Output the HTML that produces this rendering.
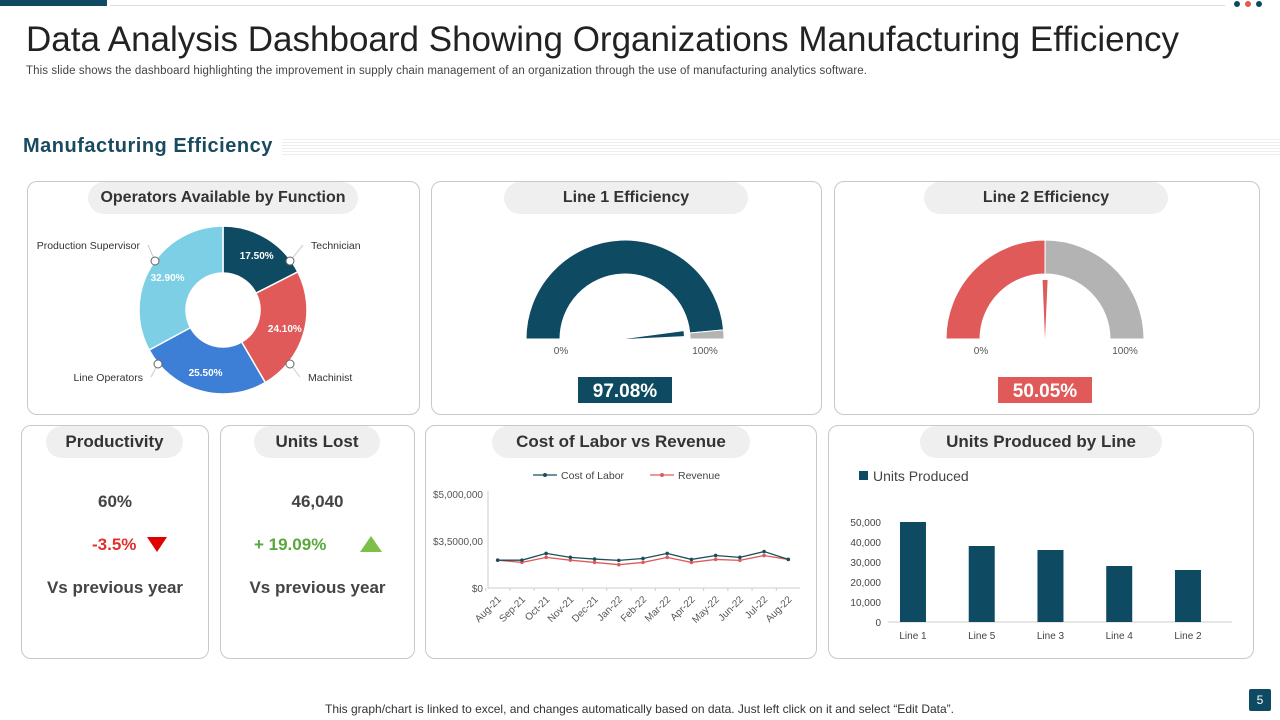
<!DOCTYPE html>
<html><head><meta charset="utf-8">
<style>
*{margin:0;padding:0;box-sizing:border-box}
body{width:1280px;height:720px;background:#fff;font-family:"Liberation Sans",sans-serif;position:relative;overflow:hidden}
.abs{position:absolute}
.card{position:absolute;border:1px solid #c8c8c8;border-radius:10px;background:#fff}
.pill{position:absolute;background:#efefef;border-radius:16px;height:32px;line-height:32px;text-align:center;font-weight:bold;font-size:17px;color:#333;white-space:nowrap}
svg text{font-family:"Liberation Sans",sans-serif}
</style></head><body>
<div class="abs" style="left:0;top:0;width:107px;height:6px;background:#0f4a63"></div>
<div class="abs" style="left:110px;top:5px;width:1115px;height:1px;background:#ddd"></div>
<div class="abs" style="left:1234px;top:1px;width:40px;height:8px">
<span style="position:absolute;left:0;width:6px;height:6px;border-radius:3px;background:#0f4a63"></span>
<span style="position:absolute;left:11px;width:6px;height:6px;border-radius:3px;background:#e05a5a"></span>
<span style="position:absolute;left:22px;width:6px;height:6px;border-radius:3px;background:#0f4a63"></span></div>
<div class="abs" style="left:26px;top:20px;font-size:35px;color:#222;letter-spacing:0px;white-space:nowrap">Data Analysis Dashboard Showing Organizations Manufacturing Efficiency</div>
<div class="abs" style="left:26px;top:65px;font-size:11.5px;color:#444;letter-spacing:0.1px;white-space:nowrap">This slide shows the dashboard highlighting the improvement in supply chain management of an organization  through the use of manufacturing analytics software.</div>
<div class="abs" style="left:23px;top:135px;font-size:20px;font-weight:bold;color:#1a4a60;letter-spacing:0.5px">Manufacturing  Efficiency</div>
<div class="abs" style="left:282px;top:139px;width:998px;height:16px;background:repeating-linear-gradient(#eee 0 1px,#fff 1px 3px)"></div>

<div class="card" style="left:27px;top:181px;width:393px;height:234px"></div>
<div class="pill" style="left:88px;top:182px;width:270px;font-size:16px">Operators Available by Function</div>
<div class="card" style="left:431px;top:181px;width:391px;height:234px"></div>
<div class="pill" style="left:504px;top:182px;width:244px;font-size:16px">Line 1 Efficiency</div>
<div class="card" style="left:834px;top:181px;width:426px;height:234px"></div>
<div class="pill" style="left:924px;top:182px;width:244px;font-size:16px">Line 2 Efficiency</div>

<div class="card" style="left:21px;top:425px;width:188px;height:234px"></div>
<div class="pill" style="left:46px;top:426px;width:137px">Productivity</div>
<div class="card" style="left:220px;top:425px;width:195px;height:234px"></div>
<div class="pill" style="left:254px;top:426px;width:126px">Units Lost</div>
<div class="card" style="left:425px;top:425px;width:392px;height:234px"></div>
<div class="pill" style="left:492px;top:426px;width:258px">Cost of Labor vs Revenue</div>
<div class="card" style="left:828px;top:425px;width:426px;height:234px"></div>
<div class="pill" style="left:920px;top:426px;width:242px">Units Produced by Line</div>

<div class="abs" style="left:21px;width:188px;top:492px;text-align:center;font-size:17px;font-weight:bold;color:#444">60%</div>
<div class="abs" style="left:92px;top:535px;font-size:17px;font-weight:bold;color:#e03030">-3.5%</div>
<div class="abs" style="left:147px;top:537px;width:0;height:0;border-left:10px solid transparent;border-right:10px solid transparent;border-top:15px solid #e00000"></div>
<div class="abs" style="left:21px;width:188px;top:578px;text-align:center;font-size:17px;font-weight:bold;color:#444">Vs previous year</div>
<div class="abs" style="left:220px;width:195px;top:492px;text-align:center;font-size:17px;font-weight:bold;color:#444">46,040</div>
<div class="abs" style="left:254px;top:535px;font-size:17px;font-weight:bold;color:#5aa83c">+ 19.09%</div>
<div class="abs" style="left:360px;top:536px;width:0;height:0;border-left:11px solid transparent;border-right:11px solid transparent;border-bottom:16px solid #7cc04a"></div>
<div class="abs" style="left:220px;width:195px;top:578px;text-align:center;font-size:17px;font-weight:bold;color:#444">Vs previous year</div>

<div class="abs" style="left:325px;top:702px;font-size:12px;color:#333;white-space:nowrap">This graph/chart is linked to excel,  and changes automatically based on data. Just left click on it and select “Edit Data”.</div>
<div class="abs" style="left:1249px;top:689px;width:22px;height:22px;background:#0f4a63;color:#fff;font-size:12px;text-align:center;line-height:22px;border-radius:2px">5</div>

<svg id="main" class="abs" style="left:0;top:0" width="1280" height="720"></svg>

<script>
const donutLabels=["Technician","Machinist","Line Operators","Production Supervisor"];
const donutValues=[17.5,24.1,25.5,32.9];
const donutColors=["#0f4a63","#e05a5a","#3d7fd6","#7dcfe6"];
const gauge1Value=97.08;
const gauge2Value=50.05;
const months=["Aug-21","Sep-21","Oct-21","Nov-21","Dec-21","Jan-22","Feb-22","Mar-22","Apr-22","May-22","Jun-22","Jul-22","Aug-22"];
const costOfLabor=[1480000,1480000,1840000,1630000,1540000,1470000,1570000,1840000,1520000,1730000,1630000,1940000,1520000];
const revenue=[1480000,1360000,1630000,1480000,1360000,1240000,1360000,1630000,1360000,1520000,1470000,1730000,1520000];
const lineTicks=[0,2500000,5000000];
const lineTickLabels=["$0","$3,5000,00","$5,000,000"];
const barCats=["Line 1","Line 5","Line 3","Line 4","Line 2"];
const barValues=[50000,38000,36000,28000,26000];
const barTicks=[0,10000,20000,30000,40000,50000];

const NS="http://www.w3.org/2000/svg";
const svg=document.getElementById('main');
function mk(tag,attrs,parent){const e=document.createElementNS(NS,tag);for(const k in attrs)e.setAttribute(k,attrs[k]);(parent||svg).appendChild(e);return e;}
function txt(x,y,s,attrs){const t=mk('text',Object.assign({x:x,y:y},attrs||{}));t.textContent=s;return t;}

// Donut
const dcx=223,dcy=310,ro=84,ri=37;
const total=donutValues.reduce((a,b)=>a+b,0);
let acc=0;
function pt(r,a){return [dcx+r*Math.sin(a),dcy-r*Math.cos(a)];}
const labelPos=[[290,261,311,249,'start'],[290,364,308,381,'start'],[158,364,143,381,'end'],[155,261,140,249,'end']];
donutValues.forEach((v,i)=>{
  const a0=acc/total*2*Math.PI;acc+=v;const a1=acc/total*2*Math.PI;
  const lg=(a1-a0)>Math.PI?1:0;
  const p0=pt(ro,a0),p1=pt(ro,a1),q1=pt(ri,a1),q0=pt(ri,a0);
  const s=mk('path',{d:`M${p0} A${ro},${ro} 0 ${lg} 1 ${p1} L${q1} A${ri},${ri} 0 ${lg} 0 ${q0}Z`,fill:donutColors[i],stroke:'#fff','stroke-width':1.5});
  
  
  const am=(a0+a1)/2,lp=pt((ro+ri)/2+4,am);
  const t=txt(lp[0],lp[1]+4,v.toFixed(2)+'%',{fill:'#fff','font-size':10,'font-weight':'bold','text-anchor':'middle'});
  
  
  const L=labelPos[i];
  mk('line',{x1:L[0],y1:L[1],x2:L[2]+(L[4]=='start'?-8:8),y2:L[3]-4,stroke:'#ccc'});
  mk('circle',{cx:L[0],cy:L[1],r:4,fill:'#fff',stroke:'#666'});
  const lt=txt(L[2],L[3],donutLabels[i],{fill:'#333','font-size':10.5,'text-anchor':L[4]});
  
  
});

// Gauges
function gauge(cx,cy,val,col,name){
  const r1=99,r2=65,f=val/100;
  function gp(r,t){return [cx-r*Math.cos(Math.PI*t),cy-r*Math.sin(Math.PI*t)];}
  function arc(t0,t1,c){const a=gp(r1,t0),b=gp(r1,t1),c2=gp(r2,t1),d=gp(r2,t0);
    return mk('path',{d:`M${a} A${r1},${r1} 0 0 1 ${b} L${c2} A${r2},${r2} 0 0 0 ${d}Z`,fill:c,stroke:'#fff','stroke-width':1});}
  const g1=arc(0,f,col);
  const g2=arc(f,1,'#b3b3b3');
  const tip=gp(r2-6,f),perp=[Math.sin(Math.PI*f)*2.5,Math.cos(Math.PI*f)*2.5];
  const nd=mk('path',{d:`M${cx},${cy} L${tip[0]-perp[0]},${tip[1]+perp[1]} L${tip[0]+perp[0]},${tip[1]-perp[1]}Z`,fill:col});
  
  txt(cx-64,cy+15,'0%',{fill:'#555','font-size':10,'text-anchor':'middle'});
  txt(cx+80,cy+15,'100%',{fill:'#555','font-size':10,'text-anchor':'middle'});
  mk('rect',{x:cx-47,y:cy+38,width:94,height:26,fill:col});
  const vt=txt(cx,cy+58,val.toFixed(2)+'%',{fill:'#fff','font-size':19,'font-weight':'bold','text-anchor':'middle'});
  
}
gauge(625,339,gauge1Value,'#0f4a63','line1-gauge');
gauge(1045,339,gauge2Value,'#e05a5a','line2-gauge');

// Line chart
const lx0=497.7,lx1=788.3,ly0=588,ly1=494,lmax=5000000;
const lx=i=>lx0+(lx1-lx0)*i/(months.length-1);
const ly=v=>ly0-(ly0-ly1)*v/lmax;
mk('line',{x1:488,y1:ly(0),x2:800,y2:ly(0),stroke:'#ccc'});
mk('line',{x1:488,y1:ly1-3,x2:488,y2:ly(0),stroke:'#ccc'});
lineTicks.forEach((t,i)=>{const e=txt(483,ly(t)+4,lineTickLabels[i],{fill:'#555','font-size':10,'text-anchor':'end'});});
months.forEach((m,i)=>{
  mk('line',{x1:lx(i)-12,y1:ly(0),x2:lx(i)-12,y2:ly(0)+3,stroke:'#ccc'});
  const e=txt(lx(i)+4,ly(0)+12,m,{fill:'#555','font-size':10,'text-anchor':'end',transform:`rotate(-45 ${lx(i)+4} ${ly(0)+12})`});
  
});
function series(vals,col,name){
  const p=mk('polyline',{points:vals.map((v,i)=>lx(i)+','+ly(v)).join(' '),fill:'none',stroke:col,'stroke-width':1.3});
  
  vals.forEach((v,i)=>{const c=mk('circle',{cx:lx(i),cy:ly(v),r:1.8,fill:col});});
}
series(revenue,'#e05a5a','revenue');
series(costOfLabor,'#1c4f5a','cost-of-labor');
mk('line',{x1:533,y1:475,x2:557,y2:475,stroke:'#1c4f5a','stroke-width':1.3});mk('circle',{cx:545,cy:475,r:2,fill:'#1c4f5a'});
txt(561,479,'Cost of Labor',{fill:'#444','font-size':10.5});
mk('line',{x1:650,y1:475,x2:674,y2:475,stroke:'#e05a5a','stroke-width':1.3});mk('circle',{cx:662,cy:475,r:2,fill:'#e05a5a'});
txt(678,479,'Revenue',{fill:'#444','font-size':10.5});

// Bar chart
const by0=622,by1=522,bmax=50000,bx0=878.6,bstep=68.75,bw=26;
const by=v=>by0-(by0-by1)*v/bmax;
const bxc=i=>bx0+bstep*(i+0.5);
mk('line',{x1:888,y1:by0,x2:1232,y2:by0,stroke:'#ccc'});
barTicks.forEach(t=>{const e=txt(881,by(t)+4,t.toLocaleString('en-US'),{fill:'#444','font-size':10,'text-anchor':'end'});});
barValues.forEach((v,i)=>{
  const r=mk('rect',{x:bxc(i)-bw/2,y:by(v),width:bw,height:by0-by(v),fill:'#0f4a63'});
  
  
  const t=txt(bxc(i),by0+17,barCats[i],{fill:'#444','font-size':10,'text-anchor':'middle'});
  
});
mk('rect',{x:859,y:471,width:9,height:9,fill:'#0f4a63'});
txt(873,481,'Units Produced',{fill:'#444','font-size':14});
</script>
</body></html>
